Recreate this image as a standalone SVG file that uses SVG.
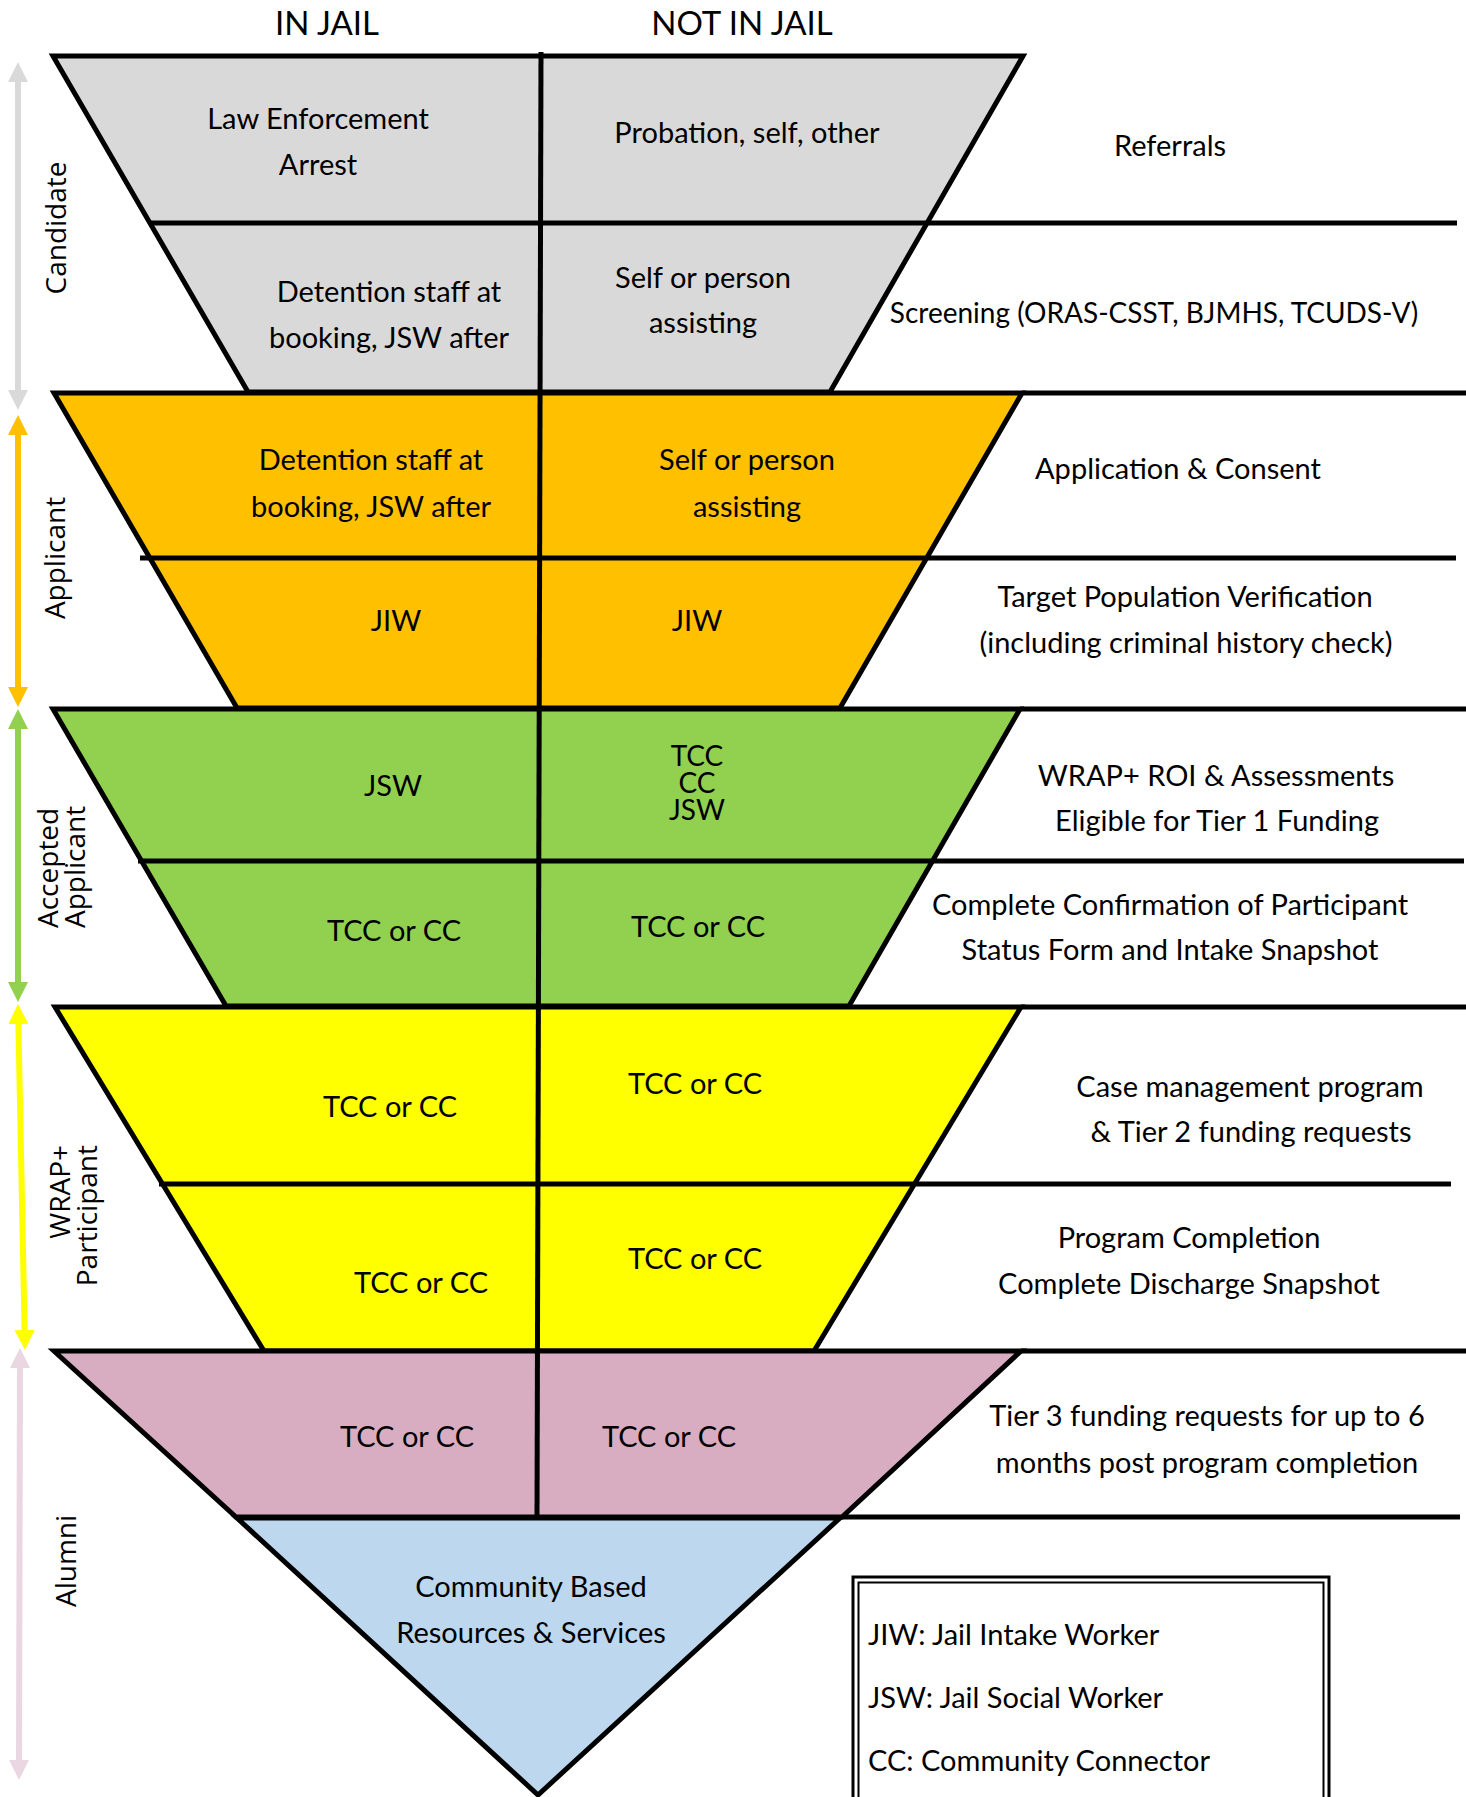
<svg xmlns="http://www.w3.org/2000/svg" width="1466" height="1797" viewBox="0 0 1466 1797">
<style>
.t{font-family:Lato,"Liberation Sans",sans-serif;font-size:29px;fill:#000;text-anchor:middle}
.l{text-anchor:start}
.h{font-size:33px}
.v{font-family:"Open Sans","DejaVu Sans",sans-serif;font-size:28px;fill:#000;text-anchor:middle}
.ln{stroke:#000;stroke-width:5;fill:none}
.shape{stroke:#000;stroke-width:5;stroke-linejoin:miter}
</style>
<defs>
<marker id="mG" viewBox="0 0 20 20" refX="5" refY="10" markerWidth="20" markerHeight="20" markerUnits="userSpaceOnUse" orient="auto-start-reverse"><path d="M0,0 L20,10 L0,20 z" fill="#D9D9D9"/></marker>
<marker id="mO" viewBox="0 0 20 20" refX="5" refY="10" markerWidth="20" markerHeight="20" markerUnits="userSpaceOnUse" orient="auto-start-reverse"><path d="M0,0 L20,10 L0,20 z" fill="#FFC000"/></marker>
<marker id="mGr" viewBox="0 0 20 20" refX="5" refY="10" markerWidth="20" markerHeight="20" markerUnits="userSpaceOnUse" orient="auto-start-reverse"><path d="M0,0 L20,10 L0,20 z" fill="#92D050"/></marker>
<marker id="mY" viewBox="0 0 20 20" refX="5" refY="10" markerWidth="20" markerHeight="20" markerUnits="userSpaceOnUse" orient="auto-start-reverse"><path d="M0,0 L20,10 L0,20 z" fill="#FFFF00"/></marker>
<marker id="mP" viewBox="0 0 20 20" refX="5" refY="10" markerWidth="20" markerHeight="20" markerUnits="userSpaceOnUse" orient="auto-start-reverse"><path d="M0,0 L20,10 L0,20 z" fill="#EAD7E2"/></marker>
</defs>
<rect width="1466" height="1797" fill="#fff"/>

<g id="headers">
<text class="t h" x="327" y="35">IN JAIL</text>
<text class="t h" x="742" y="35">NOT IN JAIL</text>
</g>

<g id="candidate">
<polygon class="shape" fill="#D9D9D9" points="53,56 1023,56 830,392 248,392"/>
<line class="ln" x1="150" y1="223" x2="1457" y2="223"/>
<text class="t" x="318" y="129">Law Enforcement</text>
<text class="t" x="318" y="175">Arrest</text>
<text class="t" x="747" y="143">Probation, self, other</text>
<text class="t" x="1170" y="156">Referrals</text>
<text class="t" x="389" y="302">Detention staff at</text>
<text class="t" x="389" y="348">booking, JSW after</text>
<text class="t" x="703" y="288">Self or person</text>
<text class="t" x="703" y="333">assisting</text>
<text class="t" x="1154" y="323" style="font-size:28px">Screening (ORAS-CSST, BJMHS, TCUDS-V)</text>
</g>

<g id="applicant">
<polygon class="shape" fill="#FFC000" points="54,393 1022,393 840,708 237,708"/>
<line class="ln" x1="1022" y1="393" x2="1466" y2="393"/>
<line class="ln" x1="140" y1="558" x2="1456" y2="558"/>
<text class="t" x="371" y="470">Detention staff at</text>
<text class="t" x="371" y="517">booking, JSW after</text>
<text class="t" x="747" y="470">Self or person</text>
<text class="t" x="747" y="517">assisting</text>
<text class="t" x="1178" y="479">Application &amp; Consent</text>
<text class="t" x="396" y="631">JIW</text>
<text class="t" x="697" y="631">JIW</text>
<text class="t" x="1185" y="607">Target Population Verification</text>
<text class="t" x="1186" y="653">(including criminal history check)</text>
</g>

<g id="accepted-applicant">
<polygon class="shape" fill="#92D050" points="53,709 1020,709 849,1006 226,1006"/>
<line class="ln" x1="1020" y1="709" x2="1466" y2="709"/>
<line class="ln" x1="138" y1="861" x2="1464" y2="861"/>
<text class="t" x="393" y="796">JSW</text>
<text class="t" x="697" y="766" style="font-size:28px">TCC<tspan x="697" y="793">CC</tspan><tspan x="697" y="820">JSW</tspan></text>
<text class="t" x="1216" y="786">WRAP+ ROI &amp; Assessments</text>
<text class="t" x="1217" y="831">Eligible for Tier 1 Funding</text>
<text class="t" x="394" y="941">TCC or CC</text>
<text class="t" x="698" y="937">TCC or CC</text>
<text class="t" x="1170" y="915">Complete Confirmation of Participant</text>
<text class="t" x="1170" y="960">Status Form and Intake Snapshot</text>
</g>

<g id="wrap-participant">
<polygon class="shape" fill="#FFFF00" points="55,1007 1021,1007 814,1351 264,1351"/>
<line class="ln" x1="1021" y1="1007" x2="1466" y2="1007"/>
<line class="ln" x1="159" y1="1184" x2="1451" y2="1184"/>
<text class="t" x="390" y="1117">TCC or CC</text>
<text class="t" x="695" y="1094">TCC or CC</text>
<text class="t" x="1250" y="1097">Case management program</text>
<text class="t" x="1251" y="1142">&amp; Tier 2 funding requests</text>
<text class="t" x="421" y="1293">TCC or CC</text>
<text class="t" x="695" y="1269">TCC or CC</text>
<text class="t" x="1189" y="1248">Program Completion</text>
<text class="t" x="1189" y="1294">Complete Discharge Snapshot</text>
</g>

<g id="alumni">
<polygon class="shape" fill="#D8ADC1" points="54,1351 1021,1351 842,1517 236,1517"/>
<line class="ln" x1="1021" y1="1351" x2="1466" y2="1351"/>
<line class="ln" x1="842" y1="1517" x2="1460" y2="1517"/>
<text class="t" x="407" y="1447">TCC or CC</text>
<text class="t" x="669" y="1447">TCC or CC</text>
<text class="t" x="1207" y="1426">Tier 3 funding requests for up to 6</text>
<text class="t" x="1207" y="1473">months post program completion</text>
</g>

<g id="community">
<polygon class="shape" fill="#BDD7EE" points="237,1518 840,1518 538,1795"/>
<text class="t" x="531" y="1597">Community Based</text>
<text class="t" x="531" y="1643">Resources &amp; Services</text>
</g>

<g id="divider">
<line class="ln" x1="541" y1="52" x2="537" y2="1518" stroke-width="4"/>
</g>

<g id="legend">
<rect x="853" y="1577" width="476" height="240" fill="none" stroke="#000" stroke-width="3"/>
<rect x="858.5" y="1582.5" width="465" height="230" fill="none" stroke="#000" stroke-width="2"/>
<text class="t l" x="868" y="1645">JIW: Jail Intake Worker</text>
<text class="t l" x="868" y="1708">JSW: Jail Social Worker</text>
<text class="t l" x="868" y="1771">CC: Community Connector</text>
</g>

<g id="stage-labels">
<text class="v" transform="translate(66,228) rotate(-90)">Candidate</text>
<text class="v" transform="translate(65,558) rotate(-90)">Applicant</text>
<text class="v" style="text-anchor:start" transform="translate(58,928) rotate(-90)">Accepted</text>
<text class="v" style="text-anchor:start" transform="translate(85,928) rotate(-90)">Applicant</text>
<text class="v" style="text-anchor:end" transform="translate(70,1145) rotate(-90)">WRAP+</text>
<text class="v" style="text-anchor:end" transform="translate(97,1145) rotate(-90)">Participant</text>
<text class="v" transform="translate(76,1561) rotate(-90)">Alumni</text>
</g>

<g id="connectors">
<line x1="18" y1="77" x2="18" y2="395" stroke="#D9D9D9" stroke-width="6" marker-start="url(#mG)" marker-end="url(#mG)"/>
<line x1="18" y1="430" x2="18" y2="692" stroke="#FFC000" stroke-width="6" marker-start="url(#mO)" marker-end="url(#mO)"/>
<line x1="18" y1="724" x2="18" y2="987" stroke="#92D050" stroke-width="6" marker-start="url(#mGr)" marker-end="url(#mGr)"/>
<line x1="18.3" y1="1019" x2="24.7" y2="1335" stroke="#FFFF00" stroke-width="6" marker-start="url(#mY)" marker-end="url(#mY)"/>
<line x1="20" y1="1363" x2="19" y2="1765" stroke="#EAD7E2" stroke-width="6" marker-start="url(#mP)" marker-end="url(#mP)"/>
</g>
</svg>
